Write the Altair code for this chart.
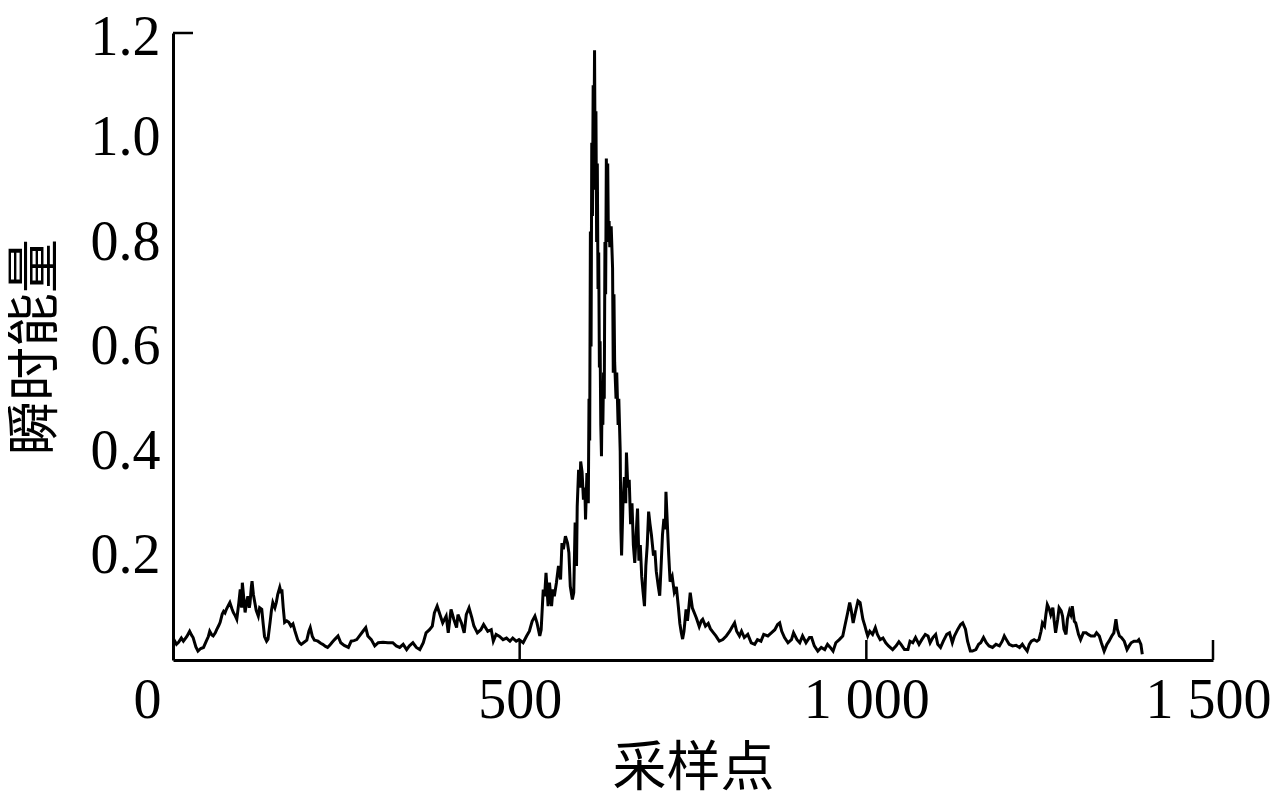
import altair as alt
import pandas as pd

# ---- data (sample index, instantaneous energy) ----
seg1_s = [1, 5, 8, 12, 15, 20, 24, 27, 29, 33, 36, 40, 44, 48, 51, 53, 56, 58, 61, 63,
          66, 68, 71, 73, 75, 77, 80, 82, 85, 87, 90, 92, 95, 97, 99, 100, 102, 104, 106, 108,
          110, 111, 113, 114, 116, 118, 120, 123, 125, 128, 130, 132, 135, 137, 140, 142, 144, 147, 149, 151,
          154, 156, 157, 159, 161, 164, 167, 170, 173, 176, 180, 183, 185, 189, 193, 196, 198, 201, 204, 207,
          209, 213, 216, 220, 223, 226, 229]
seg1_v = [0.040, 0.030, 0.034, 0.042, 0.036, 0.045, 0.055, 0.047, 0.043, 0.025, 0.017, 0.022, 0.024, 0.036, 0.045, 0.055, 0.048, 0.046, 0.052, 0.058,
          0.066, 0.072, 0.088, 0.093, 0.090, 0.097, 0.105, 0.110, 0.098, 0.091, 0.084, 0.078, 0.110, 0.135, 0.100, 0.148, 0.120, 0.091, 0.110, 0.122,
          0.100, 0.108, 0.140, 0.151, 0.125, 0.110, 0.095, 0.084, 0.100, 0.097, 0.070, 0.045, 0.036, 0.040, 0.072, 0.095, 0.110, 0.100, 0.110, 0.125,
          0.139, 0.128, 0.135, 0.100, 0.072, 0.075, 0.072, 0.065, 0.069, 0.055, 0.038, 0.032, 0.030, 0.034, 0.038, 0.055, 0.062, 0.045, 0.038, 0.037,
          0.036, 0.032, 0.030, 0.026, 0.024, 0.028, 0.033]

seg2_s = [233, 238, 242, 247, 253, 257, 261, 265, 269, 274, 278, 281, 286, 291, 296, 303, 310, 317, 322, 327,
          332, 337, 341, 346, 351, 356, 361, 365, 370, 374, 377, 381, 385, 389, 394, 397, 401, 405, 409, 411,
          416, 420, 423, 427, 431, 434, 439, 444, 448, 454, 459]
seg2_v = [0.039, 0.046, 0.033, 0.028, 0.024, 0.036, 0.037, 0.039, 0.046, 0.055, 0.062, 0.046, 0.039, 0.027, 0.033, 0.034, 0.033, 0.033, 0.027, 0.024,
          0.030, 0.020, 0.027, 0.033, 0.024, 0.020, 0.033, 0.052, 0.058, 0.065, 0.090, 0.103, 0.087, 0.071, 0.084, 0.052, 0.097, 0.078, 0.062, 0.087,
          0.071, 0.052, 0.087, 0.100, 0.081, 0.065, 0.052, 0.058, 0.068, 0.055, 0.058]

seg3_s = [462, 466, 471, 476, 481, 486, 490, 495, 499, 505, 510, 514, 518, 522, 525, 529, 531, 534, 536, 538,
          541, 543, 546, 548, 550, 553, 556, 559, 561, 563, 566, 569, 571, 573, 576, 578, 580, 582, 583, 585,
          587, 588, 590, 592, 594, 595, 597, 599]
seg3_v = [0.036, 0.049, 0.045, 0.039, 0.042, 0.036, 0.042, 0.036, 0.039, 0.033, 0.046, 0.055, 0.074, 0.084, 0.071, 0.046, 0.058, 0.135, 0.122, 0.167,
          0.103, 0.148, 0.103, 0.135, 0.122, 0.148, 0.180, 0.154, 0.224, 0.212, 0.237, 0.224, 0.205, 0.141, 0.116, 0.129, 0.263, 0.180, 0.294, 0.364,
          0.330, 0.380, 0.360, 0.307, 0.330, 0.269, 0.358, 0.300]

seg4_s = [600, 601, 602, 603, 604, 605, 606, 607, 608, 609, 610, 611, 612, 613, 614, 615, 616, 617, 618, 619,
          620, 621, 622, 623, 624, 625, 626, 627, 628, 629, 630, 632, 634, 635, 636, 637, 639, 640, 642, 643,
          645, 646, 647, 649, 651, 653, 654, 656, 658, 660, 662, 664, 666, 668, 670, 672, 674, 676, 678, 680,
          682, 684, 686, 688, 690, 693, 695, 697, 700, 702, 704, 706, 708, 710, 711, 713, 715, 717, 720, 723,
          726, 729, 731, 733, 735, 737, 740, 742, 744, 746, 749, 752, 755, 759, 762, 764, 768, 772, 775, 779,
          783]
seg4_v = [0.50, 0.42, 0.82, 0.60, 0.99, 0.85, 1.10, 0.95, 1.167, 0.90, 1.05, 0.80, 0.95, 0.71, 0.78, 0.56, 0.61, 0.45, 0.39, 0.52,
          0.45, 0.55, 0.50, 0.80, 0.70, 0.96, 0.85, 0.95, 0.80, 0.84, 0.79, 0.83, 0.75, 0.55, 0.70, 0.57, 0.50, 0.55, 0.45, 0.50,
          0.40, 0.25, 0.20, 0.30, 0.35, 0.30, 0.397, 0.33, 0.345, 0.26, 0.30, 0.22, 0.186, 0.24, 0.29, 0.19, 0.22, 0.16, 0.13, 0.103,
          0.18, 0.22, 0.284, 0.26, 0.24, 0.20, 0.21, 0.17, 0.14, 0.123, 0.18, 0.24, 0.27, 0.25, 0.322, 0.26, 0.20, 0.15, 0.16, 0.13,
          0.14, 0.10, 0.07, 0.053, 0.040, 0.055, 0.097, 0.075, 0.10, 0.129, 0.10, 0.09, 0.08, 0.064, 0.075, 0.078, 0.065, 0.070, 0.060, 0.053,
          0.046]

seg5_s = [786, 788, 793, 798, 803, 806, 810, 813, 817, 820, 824, 829, 834, 839, 843, 848, 852, 858, 863, 868,
          872, 875, 878, 882, 887, 892, 895, 900, 904, 908, 913, 918, 921, 925, 930, 935, 940, 944, 948, 952,
          956, 961, 966, 969, 973, 976, 978, 981, 984, 988, 991, 995, 998]
seg5_v = [0.040, 0.036, 0.039, 0.046, 0.055, 0.062, 0.071, 0.055, 0.046, 0.055, 0.043, 0.049, 0.033, 0.030, 0.039, 0.036, 0.049, 0.046, 0.052, 0.058,
          0.068, 0.071, 0.055, 0.043, 0.033, 0.039, 0.052, 0.039, 0.033, 0.046, 0.033, 0.043, 0.043, 0.027, 0.017, 0.024, 0.020, 0.030, 0.024, 0.017,
          0.033, 0.039, 0.046, 0.065, 0.090, 0.110, 0.097, 0.071, 0.090, 0.113, 0.110, 0.078, 0.065]

seg6_s = [1000, 1002, 1005, 1009, 1013, 1016, 1020, 1024, 1028, 1032, 1038, 1043, 1047, 1050, 1055, 1060, 1063, 1067, 1071, 1076,
          1080, 1085, 1089, 1092, 1096, 1100, 1103, 1107, 1111, 1116, 1120, 1124, 1127, 1132, 1136, 1139, 1143, 1146, 1150, 1153,
          1158, 1162, 1165, 1169, 1173, 1177, 1182, 1187, 1192, 1196, 1199, 1202, 1206, 1211, 1216, 1221, 1225]
seg6_v = [0.055, 0.046, 0.055, 0.049, 0.062, 0.049, 0.039, 0.042, 0.033, 0.027, 0.020, 0.027, 0.035, 0.030, 0.020, 0.020, 0.036, 0.033, 0.043, 0.030,
          0.039, 0.049, 0.046, 0.033, 0.043, 0.049, 0.030, 0.024, 0.036, 0.049, 0.052, 0.033, 0.046, 0.059, 0.068, 0.071, 0.059, 0.036, 0.017, 0.017,
          0.020, 0.030, 0.033, 0.043, 0.033, 0.027, 0.024, 0.030, 0.027, 0.036, 0.046, 0.039, 0.030, 0.027, 0.028, 0.024, 0.030]

seg7_s = [1228, 1232, 1235, 1238, 1242, 1246, 1249, 1252, 1254, 1257, 1259, 1261, 1264, 1266, 1269, 1271, 1273, 1276, 1278, 1281,
          1283, 1285, 1288, 1290, 1293, 1295, 1297, 1300, 1302, 1306, 1309, 1313, 1317, 1320, 1324, 1329, 1332, 1336, 1339, 1343,
          1347, 1350, 1354, 1357, 1360, 1362, 1365, 1368, 1372, 1376, 1379, 1382, 1386, 1391, 1393, 1396, 1398]
seg7_v = [0.024, 0.017, 0.030, 0.036, 0.039, 0.036, 0.039, 0.055, 0.071, 0.065, 0.087, 0.106, 0.097, 0.087, 0.100, 0.074, 0.052, 0.078, 0.100, 0.094,
          0.084, 0.059, 0.049, 0.078, 0.094, 0.087, 0.103, 0.074, 0.071, 0.049, 0.039, 0.052, 0.052, 0.049, 0.046, 0.046, 0.052, 0.046, 0.033, 0.017,
          0.030, 0.036, 0.046, 0.052, 0.078, 0.059, 0.046, 0.043, 0.036, 0.020, 0.027, 0.033, 0.036, 0.036, 0.039, 0.030, 0.011]

samples = seg1_s + seg2_s + seg3_s + seg4_s + seg5_s + seg6_s + seg7_s
energy = seg1_v + seg2_v + seg3_v + seg4_v + seg5_v + seg6_v + seg7_v

x_ticks = [0, 500, 1000, 1500]
y_ticks = [0.2, 0.4, 0.6, 0.8, 1.0, 1.2]
x_inner_ticks = [500, 1000, 1500]
y_inner_ticks = [1.2]

X_NAME = "采样点"
Y_NAME = "瞬时能量"
NUM_FONT = "Liberation Serif"
CJK_FONT = "Noto Sans CJK SC"

df = pd.DataFrame({X_NAME: samples, Y_NAME: energy})

xscale = alt.Scale(domain=[0, 1500], nice=False, zero=False)
yscale = alt.Scale(domain=[0, 1.2], nice=False, zero=False)

x_axis = alt.Axis(values=x_ticks, title=X_NAME, labelFlush=False,
                  labelExpr="replace(format(datum.value, ','), ',', ' ')",
                  labelOffset={"condition": [{"test": "datum.value == 0", "value": -26},
                                             {"test": "datum.value == 1500", "value": -5}],
                               "value": 0},
                  labelPadding=13, titlePadding=14)
y_axis = alt.Axis(values=y_ticks, format=".1f", title=Y_NAME,
                  labelOffset={"condition": {"test": "datum.value > 1.15", "value": 4}, "value": 0},
                  labelPadding=13, titlePadding=27)

line = alt.Chart(df).mark_line(color="black", strokeWidth=3).encode(
    x=alt.X(f"{X_NAME}:Q", scale=xscale, axis=x_axis),
    y=alt.Y(f"{Y_NAME}:Q", scale=yscale, axis=y_axis),
)

xt = alt.Chart(pd.DataFrame({X_NAME: x_inner_ticks})).mark_rule(color="black", strokeWidth=2.5).encode(
    x=alt.X(f"{X_NAME}:Q", scale=xscale, axis=x_axis),
    y=alt.value(627), y2=alt.value(607),
)

yt = alt.Chart(pd.DataFrame({Y_NAME: y_inner_ticks})).mark_rule(color="black", strokeWidth=2.5).encode(
    y=alt.Y(f"{Y_NAME}:Q", scale=yscale, axis=y_axis),
    x=alt.value(0), x2=alt.value(20),
)

chart = alt.layer(line, xt, yt).properties(
    width=1040, height=627,
    autosize=alt.AutoSizeParams(type="none"),
    padding={"left": 165, "top": 25, "right": 60, "bottom": 142},
).configure_view(stroke=None).configure_axis(
    domainColor="black", domainWidth=3, ticks=False, grid=False,
    labelFont=NUM_FONT, labelFontSize=56, labelColor="black",
    titleFont=CJK_FONT, titleFontSize=54, titleFontWeight="normal", titleColor="black",
)

chart.save("out.html", embed_options={"renderer": "svg", "actions": False})
